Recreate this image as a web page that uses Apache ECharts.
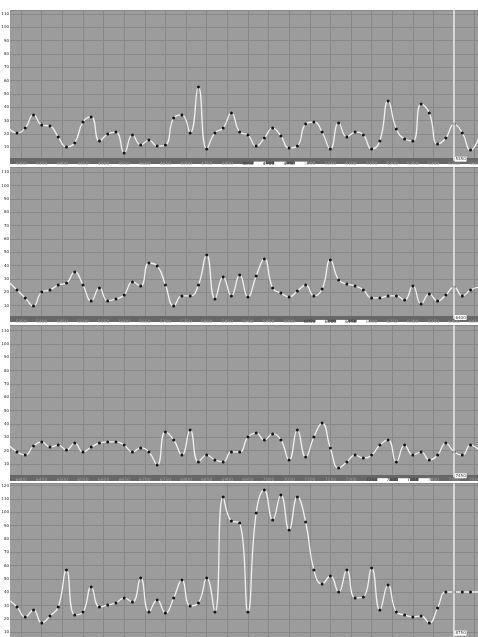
<!DOCTYPE html>
<html>
<head>
<meta charset="utf-8">
<script src="https://cdn.jsdelivr.net/npm/echarts/dist/echarts.min.js"></script>
<style>
  html, body { margin: 0; padding: 0; background: #fff; }
  #main { width: 478px; height: 637px; }
</style>
</head>
<body>
<div id="main"></div>
<script>
// values of the four stacked panels (one point every 20 units)
const panel1 = [24.5, 20.8, 24.5, 34.3, 26.8, 26, 17.8, 10.3, 13.3, 29, 32.8, 14.8, 20, 21.5, 5.8, 19.3, 11.8, 15.5, 11,
  11.7, 32, 34.3, 20.8, 55.3, 8.8, 20.8, 24.5, 35.8, 21.5, 19.3, 11, 17, 24.5, 18.5, 9.5, 11, 27.5, 29,
  21.5, 8.8, 28.3, 17.8, 21.5, 19.3, 8.8, 14.8, 44.8, 23.8, 16.3, 14.8, 42.5, 35.8, 12.5, 17, 27.5, 20.8, 8, 17];
const panel2 = [27.8, 21.8, 15.8, 9.8, 20.3, 21.8, 25.5, 27, 35.3, 25.5, 13.5, 23.3, 13.5, 15, 18, 27.8, 24.8, 42, 39.8,
  25.5, 9.8, 17.3, 17.3, 25.5, 48, 15, 31.5, 17.3, 33, 16.5, 32.3, 45, 23.3, 19.5, 16.5, 21, 25.5, 17.3,
  22.5, 44.3, 29.3, 26.3, 24.8, 21.8, 15.8, 15.8, 17.3, 17.3, 14.3, 24.8, 11.3, 18.8, 13.5, 18, 24, 17.3, 21.8, 24];
const panel3 = [24.2, 19, 16.7, 23.5, 26.5, 22.7, 24.2, 20.5, 25.7, 19, 22.7, 25.7, 26.5, 26.5, 24.2, 19, 22, 19, 9.2,
  34, 28, 16.7, 35.5, 11.5, 16.7, 13, 11.5, 19, 19, 30.2, 33.2, 28, 32.5, 28, 13, 35.5, 15.2, 30.2,
  40.7, 22, 7, 11.5, 16.7, 14.5, 16.7, 24.2, 28, 11.5, 24.2, 16.7, 19, 13, 16.7, 25.7, 19, 16.7, 24.2, 20.5];
const panel4 = [34.2, 29, 21.5, 26.7, 17, 22.2, 29, 56.7, 23, 25.2, 44, 29, 30.5, 32, 35.7, 32.7, 50.7, 25.2, 34.2,
  24.5, 35.7, 49.2, 29.7, 32, 50.7, 25.2, 111.5, 93.5, 92, 25.2, 99.5, 116.7, 94.2, 113, 86.7, 111.5, 92.7, 56.7,
  46.2, 52.2, 40.2, 56.7, 35.7, 36.5, 58.2, 26.7, 45.5, 25.2, 23, 21.5, 22.2, 17, 28.2, 40.2, 40.2, 40.2, 40.2, 40.2];

const panels = [panel1, panel2, panel3, panel4];
const xMins = [4250, 5300, 6350, 7650];      // first tick label of each panel
const xStep = 20;
const crossIndex = 54;                        // where the vertical cursor sits
const highlighted = [[4850, 4900, 4950], [6050, 6100, 6150], [7250, 7300, 7350], []];
const yMaxes = [113, 114, 114, 121.5];

const tops = [10, 167, 325.3, 483.6];
const heights = [150.7, 152, 152, 162];
const boxOffsetY = [-1.5, -1.5, -1.5, -12.5];

const chart = echarts.init(document.getElementById('main'), null, { renderer: 'canvas' });

const grids = [], xAxes = [], yAxes = [], series = [];
const gridLine = { show: true, lineStyle: { color: '#888', width: 1 } };

panels.forEach(function (vals, p) {
  const xMin = xMins[p];
  const crossX = xMin + xStep * (crossIndex + 1);
  grids.push({
    left: 0.5, right: 0, top: tops[p], height: heights[p],
    outerBoundsMode: 'none',
    containLabel: false,
    show: true, backgroundColor: '#9c9c9c', borderWidth: 0
  });
  xAxes.push({
    gridIndex: p,
    type: 'value',
    min: xMin,
    max: xMin + 1158,
    interval: 50,
    offset: 3,
    axisLine: { show: true, lineStyle: { color: '#676767', width: 6 } },
    axisTick: { show: false },
    splitLine: gridLine,
    axisLabel: {
      showMinLabel: false,
      showMaxLabel: false,
      margin: -2.6,
      fontSize: 4.5,
      lineHeight: 5,
      color: '#a0a0a0',
      formatter: function (v) {
        if (highlighted[p].indexOf(v) >= 0) return '{h|' + v + '}{w|}';
        return '{n|' + v + '}';
      },
      rich: {
        n: { fontSize: 4.5, color: '#a0a0a0' },
        h: { fontSize: 4.5, color: '#333', padding: [0, 0, 0, 12] },
        w: { backgroundColor: '#fff', width: 12, height: 4 }
      }
    }
  });
  // grid lines only, under the data
  yAxes.push({
    gridIndex: p,
    type: 'value',
    min: 0,
    max: yMaxes[p],
    interval: 10,
    axisLine: { show: false },
    axisTick: { show: false },
    axisLabel: { show: false },
    splitLine: gridLine
  });
  // tick labels only, above the white strip on the left
  yAxes.push({
    gridIndex: p,
    type: 'value',
    min: 0,
    max: yMaxes[p],
    interval: 10,
    position: 'left',
    offset: -9.5,
    z: 10,
    axisLine: { show: false },
    axisTick: { show: false },
    splitLine: { show: false },
    axisLabel: {
      showMinLabel: false,
      showMaxLabel: false,
      margin: 1,
      fontSize: 4,
      color: '#222'
    }
  });
  series.push({
    type: 'line',
    xAxisIndex: p,
    yAxisIndex: p * 2,
    smooth: 0.5,
    symbol: 'circle',
    symbolSize: 3,
    showAllSymbol: true,
    itemStyle: { color: '#151515' },
    lineStyle: { color: '#f0f0f0', width: 1.3 },
    data: vals.map(function (v, i) { return [xMin + xStep * (i + 1), v]; }),
    markLine: {
      silent: true,
      symbol: ['none', 'none'],
      label: { show: false },
      lineStyle: { color: '#ededed', width: 1.5, type: 'solid' },
      data: [{ xAxis: crossX }]
    },
    markPoint: {
      silent: true,
      symbol: 'rect',
      symbolSize: [12, 5],
      symbolOffset: [6.5, boxOffsetY[p]],
      itemStyle: { color: '#fff' },
      label: { show: true, position: 'inside', fontSize: 4, color: '#333', formatter: String(crossX) },
      data: [{ coord: [crossX, 0] }]
    }
  });
});

chart.setOption({
  animation: false,
  backgroundColor: '#fff',
  textStyle: { fontFamily: 'DejaVu Sans' },
  grid: grids,
  xAxis: xAxes,
  yAxis: yAxes,
  series: series,
  graphic: [{
    type: 'rect',
    z: 5,
    shape: { x: 0, y: 0, width: 10, height: 637 },
    style: { fill: '#fff' }
  }]
});
</script>
</body>
</html>
